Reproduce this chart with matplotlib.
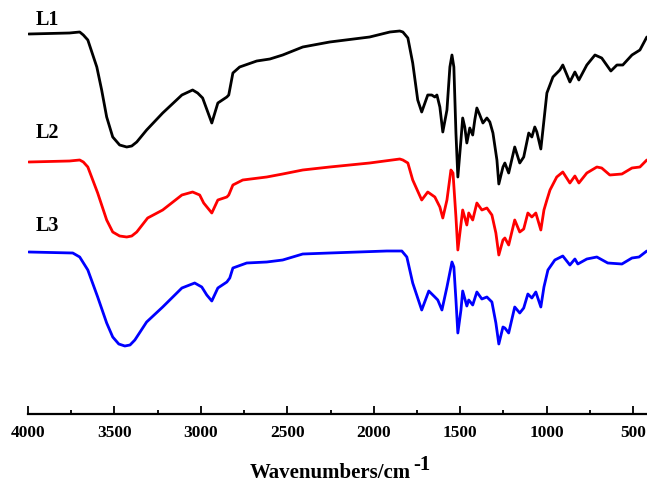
"""FT-IR spectra of L1, L2 and L3 stacked with offsets."""
import matplotlib
matplotlib.use("Agg")
import matplotlib.pyplot as plt
from matplotlib.ticker import MultipleLocator

plt.rcParams["font.family"] = ["Liberation Serif", "DejaVu Serif"]
plt.rcParams["font.weight"] = "bold"

# wavenumber (cm-1) and offset signal (depth from top of plot, arbitrary units)
l1_wn = [3996, 3760, 3701, 3680, 3654, 3602, 3574, 3545, 3510, 3470,
         3429, 3400, 3371, 3314,
         3221, 3110, 3048, 3019, 2990, 2937, 2902, 2850, 2839, 2815,
         2776, 2677, 2601, 2527, 2411, 2255, 2024, 1907, 1850, 1832, 1803,
         1775, 1746, 1723, 1688, 1665, 1647, 1635, 1618, 1601, 1577,
         1560, 1548, 1537, 1525, 1514, 1496, 1486, 1474, 1462, 1445,
         1428, 1416, 1404, 1387, 1369, 1346, 1329, 1311, 1288, 1277,
         1253, 1242, 1220, 1185, 1156, 1133, 1104, 1086, 1069, 1057,
         1034, 1022, 999, 964, 924, 907, 866, 837, 814, 768,
         721, 682, 629, 594, 560, 507, 461, 421]
l1_sig = [34, 33, 32, 35, 40, 67, 90, 117, 137, 145,
          147, 146, 142, 130,
          113, 95, 90, 93, 98, 123, 103, 97, 95, 73,
          67, 61, 59, 55, 47, 42, 37, 32, 31, 32, 38,
          63, 100, 112, 95, 95, 97, 95, 107, 132, 110,
          67, 55, 67, 133, 177, 140, 118, 127, 143, 128,
          135, 120, 108, 115, 123, 118, 122, 133, 160, 184,
          167, 163, 173, 147, 163, 157, 133, 137, 127, 132,
          149, 130, 93, 77, 70, 65, 82, 72, 80, 65,
          55, 58, 71, 65, 65, 55, 50, 37]

l2_wn = [3996, 3760, 3701, 3680, 3654, 3597, 3545, 3510, 3470, 3429,
         3400, 3371, 3308, 3221,
         3110, 3048, 3007, 2984, 2937, 2902, 2850, 2839, 2815, 2758,
         2619, 2527, 2411, 2255, 2024, 1850, 1832, 1803, 1775, 1723, 1688,
         1647, 1618, 1601, 1577, 1554, 1542, 1525, 1514, 1486, 1462,
         1451, 1428, 1404, 1375, 1346, 1317, 1294, 1277, 1253, 1242,
         1220, 1185, 1156, 1133, 1109, 1086, 1063, 1034, 1016, 999,
         981, 942, 907, 866, 837, 814, 768, 710, 682, 635,
         565, 507, 461, 421]
l2_sig = [162, 161, 160, 162, 167, 193, 220, 232, 236, 237,
          236, 232, 218, 210,
          195, 192, 195, 203, 213, 200, 197, 195, 185, 180,
          177, 174, 170, 167, 163, 159, 160, 163, 180, 200, 192,
          197, 207, 218, 200, 170, 173, 217, 250, 210, 225,
          213, 220, 203, 210, 208, 215, 233, 255, 240, 238,
          245, 220, 232, 229, 213, 217, 213, 230, 210, 200,
          190, 177, 172, 183, 176, 183, 173, 167, 168, 175,
          174, 168, 167, 160]

l3_wn = [3996, 3741, 3701, 3654, 3597, 3545, 3510, 3475, 3440, 3410,
         3382, 3314,
         3221, 3110, 3036, 2995, 2966, 2937, 2902, 2850, 2833, 2815,
         2735, 2619, 2527, 2411, 2255, 1925, 1838, 1809, 1775, 1723,
         1682, 1647, 1630, 1606, 1577, 1548, 1537, 1525, 1514, 1496,
         1486, 1462, 1451, 1428, 1404, 1375, 1346, 1317, 1294, 1277,
         1253, 1242, 1220, 1185, 1156, 1133, 1109, 1086, 1063, 1034,
         1016, 993, 953, 907, 866, 837, 820, 768, 710, 647,
         565, 507, 466, 421]
l3_sig = [252, 253, 257, 270, 297, 323, 337, 344, 346, 345,
          340, 322,
          307, 288, 283, 287, 295, 301, 288, 282, 278, 268,
          263, 262, 260, 254, 253, 251, 251, 257, 283, 310,
          291, 297, 300, 310, 287, 262, 267, 300, 333, 310,
          291, 306, 300, 305, 292, 299, 297, 302, 323, 344,
          327, 328, 333, 307, 313, 308, 294, 298, 292, 307,
          287, 270, 260, 256, 265, 259, 264, 259, 257, 263,
          264, 258, 257, 251]

labels = ["L1", "L2", "L3"]
colors = ["black", "red", "blue"]


def draw_spectra() -> None:
    """Plot the three stacked spectra and save them as out.png."""
    fig = plt.figure(figsize=(6.47, 4.84), dpi=100)
    ax = fig.add_axes([28 / 647, 70 / 484, 619 / 647, 414 / 484])

    series = [(l1_wn, l1_sig), (l2_wn, l2_sig), (l3_wn, l3_sig)]
    for (wn, sig), color in zip(series, colors):
        ax.plot(wn, sig, color=color, lw=2.0, solid_joinstyle="round",
                solid_capstyle="round")

    # sample names sit just above the flat high-wavenumber part of each trace
    for name, y in zip(labels, [20, 133, 226]):
        ax.text(3955, y, name, fontsize=14.5, fontweight="bold", va="center")

    ax.set_xlim(4000, 420)
    ax.set_ylim(414, 0)
    ax.xaxis.set_major_locator(MultipleLocator(500))
    ax.xaxis.set_minor_locator(MultipleLocator(250))
    ax.tick_params(axis="x", which="major", direction="in", length=5.5, width=1.3,
                   labelsize=12.5, pad=8)
    ax.tick_params(axis="x", which="minor", direction="in", length=3, width=1.3)
    ax.set_yticks([])
    for side in ("top", "left", "right"):
        ax.spines[side].set_visible(False)
    ax.spines["bottom"].set_linewidth(1.6)

    # axis title with a full-size raised exponent, as in the original figure
    fig.text(330 / 647, 6 / 484, "Wavenumbers/cm", fontsize=15, fontweight="bold",
             ha="center", va="baseline")
    fig.text(413 / 647, 14 / 484, "-1", fontsize=15, fontweight="bold",
             ha="left", va="baseline")

    fig.savefig("out.png", dpi=100)
    plt.close(fig)


draw_spectra()
